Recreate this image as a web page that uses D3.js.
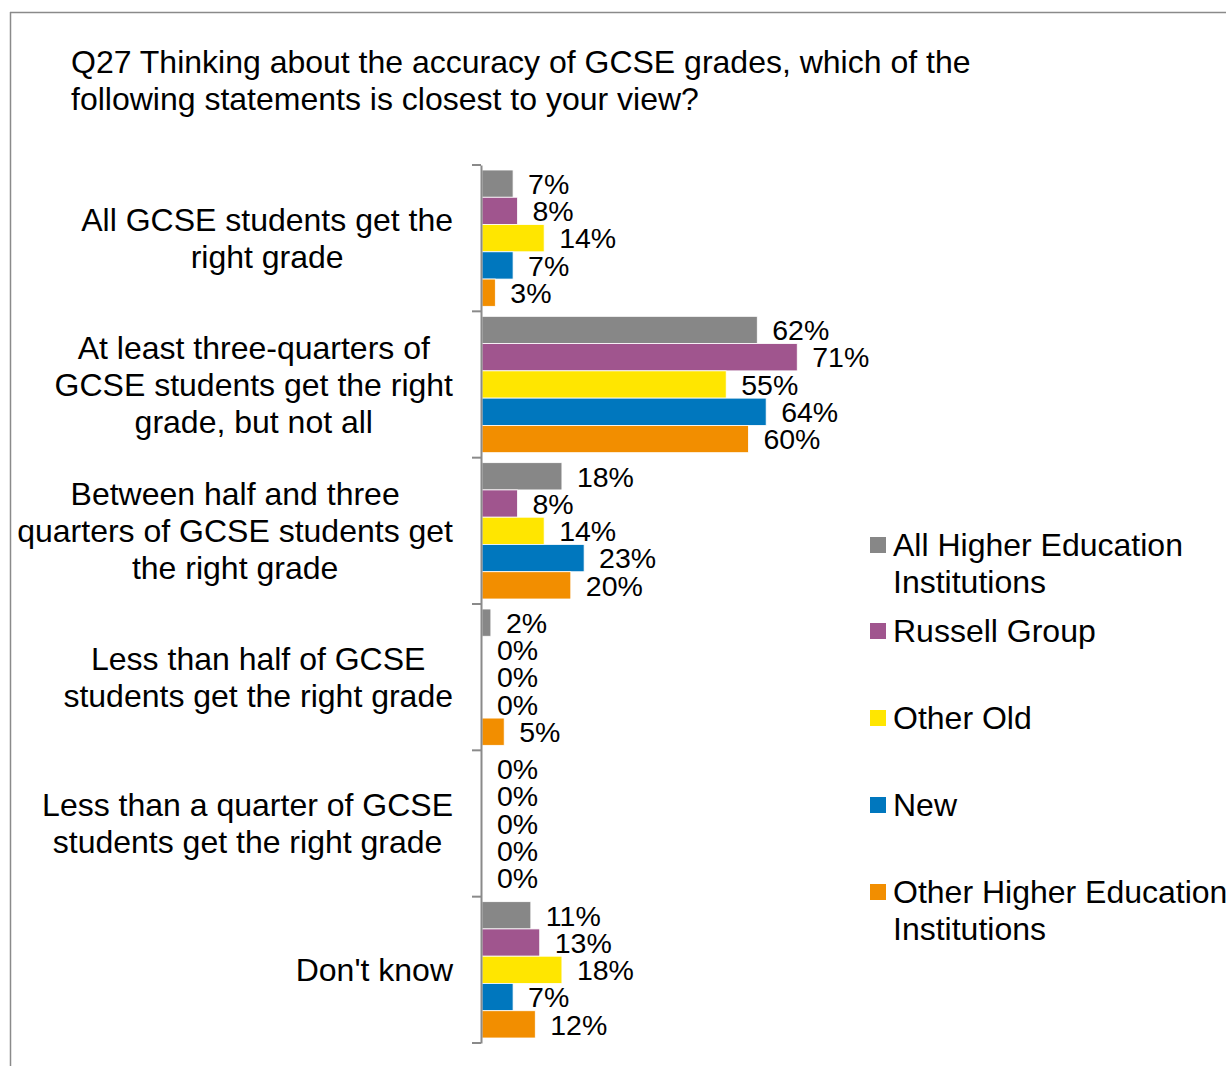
<!DOCTYPE html>
<html>
<head>
<meta charset="utf-8">
<script src="https://cdn.jsdelivr.net/npm/d3@7"></script>
<style>
  html, body { margin: 0; padding: 0; background: #fff; }
  svg { display: block; font-family: "Liberation Sans", Arial, sans-serif; }
</style>
</head>
<body>
<svg id="chart" width="1226" height="1066"></svg>
<script>
const titleLines = [
  "Q27 Thinking about the accuracy of GCSE grades, which of the",
  "following statements is closest to your view?"
];
const categories = [
  ["All GCSE students get the", "right grade"],
  ["At least three-quarters of", "GCSE students get the right", "grade, but not all"],
  ["Between half and three", "quarters of GCSE students get", "the right grade"],
  ["Less than half of GCSE", "students get the right grade"],
  ["Less than a quarter of GCSE", "students get the right grade"],
  ["Don't know"]
];
const seriesNames = [
  ["All Higher Education", "Institutions"],
  ["Russell Group"],
  ["Other Old"],
  ["New"],
  ["Other Higher Education", "Institutions"]
];
const seriesColors = ["#878787", "#A0558E", "#FFE600", "#0077BE", "#F28E00"];
const allHEI   = [7, 62, 18, 2, 0, 11];
const russell  = [8, 71, 8, 0, 0, 13];
const otherOld = [14, 55, 14, 0, 0, 18];
const newUni   = [7, 64, 23, 0, 0, 7];
const otherHEI = [3, 60, 20, 5, 0, 12];
const seriesValues = [allHEI, russell, otherOld, newUni, otherHEI];

const svg = d3.select("#chart");

// frame
svg.append("line").attr("x1", 10.5).attr("x2", 10.5).attr("y1", 12).attr("y2", 1066)
  .attr("stroke", "#8a8a8a").attr("stroke-width", 1.5);
svg.append("line").attr("x1", 10).attr("x2", 1226).attr("y1", 12.5).attr("y2", 12.5)
  .attr("stroke", "#8a8a8a").attr("stroke-width", 1.5);

// title
const title = svg.append("text").attr("font-size", 32).attr("fill", "#000");
titleLines.forEach((t, i) => {
  title.append("tspan").attr("x", 71).attr("y", 62 + i * 37).attr("dy", "0.35em").text(t);
});

const catIdx = categories.map((_, i) => i);
const y = d3.scaleBand().domain(catIdx).range([165, 1043]).padding(0);
const ySub = d3.scaleBand().domain(d3.range(seriesValues.length))
  .range([5, y.bandwidth() - 5]).padding(0);
const x = d3.scaleLinear().domain([0, 100]).range([482, 926]);

const groups = svg.append("g").selectAll("g").data(catIdx).join("g")
  .attr("transform", d => `translate(0,${y(d)})`);

groups.selectAll("rect")
  .data(ci => seriesValues.map((vals, si) => ({ si, v: vals[ci] })))
  .join("rect")
  .attr("x", x(0))
  .attr("y", d => ySub(d.si))
  .attr("width", d => x(d.v) - x(0))
  .attr("height", ySub.bandwidth())
  .attr("fill", d => seriesColors[d.si])
  .attr("stroke", d => d.v > 0 ? "#fff" : "none")
  .attr("stroke-width", 0.8);

groups.selectAll("text.val")
  .data(ci => seriesValues.map((vals, si) => ({ si, v: vals[ci] })))
  .join("text")
  .attr("class", "val")
  .attr("x", d => x(d.v) + 15)
  .attr("y", d => ySub(d.si) + ySub.bandwidth() / 2)
  .attr("dy", "0.36em")
  .attr("font-size", 28.5)
  .attr("fill", "#000")
  .text(d => d.v + "%");

// axis
const axis = d3.axisLeft(y).tickSize(0).tickFormat("");
const axG = svg.append("g").attr("transform", `translate(${x(0) - 1},0)`).call(axis);
axG.select(".domain").attr("stroke", "#8a8a8a").attr("stroke-width", 2);
const boundaries = catIdx.map(i => y(i)).concat([y.range()[1]]);
svg.append("g").selectAll("line").data(boundaries).join("line")
  .attr("x1", 472).attr("x2", x(0) - 1)
  .attr("y1", d => d).attr("y2", d => d)
  .attr("stroke", "#8a8a8a").attr("stroke-width", 2);

// category labels
const lineH = 37;
categories.forEach((lines, i) => {
  const g = svg.append("text").attr("font-size", 32).attr("fill", "#000")
    .attr("text-anchor", "middle");
  const cy = y(i) + y.bandwidth() / 2;
  const y0 = cy - (lines.length - 1) * lineH / 2;
  const spans = lines.map((t, j) => g.append("tspan").attr("y", y0 + j * lineH).attr("dy", "0.35em").text(t));
  const maxW = d3.max(spans, s => s.node().getComputedTextLength());
  const cx = 453 - maxW / 2;
  spans.forEach(s => s.attr("x", cx));
});

// legend
const legendY = [545, 631, 718, 805, 892];
seriesNames.forEach((lines, i) => {
  svg.append("rect").attr("x", 870).attr("y", legendY[i] - 8).attr("width", 16).attr("height", 16)
    .attr("fill", seriesColors[i]);
  const t = svg.append("text").attr("font-size", 32).attr("fill", "#000");
  lines.forEach((s, j) => t.append("tspan").attr("x", 893).attr("y", legendY[i] + j * lineH).attr("dy", "0.35em").text(s));
});
</script>
</body>
</html>
